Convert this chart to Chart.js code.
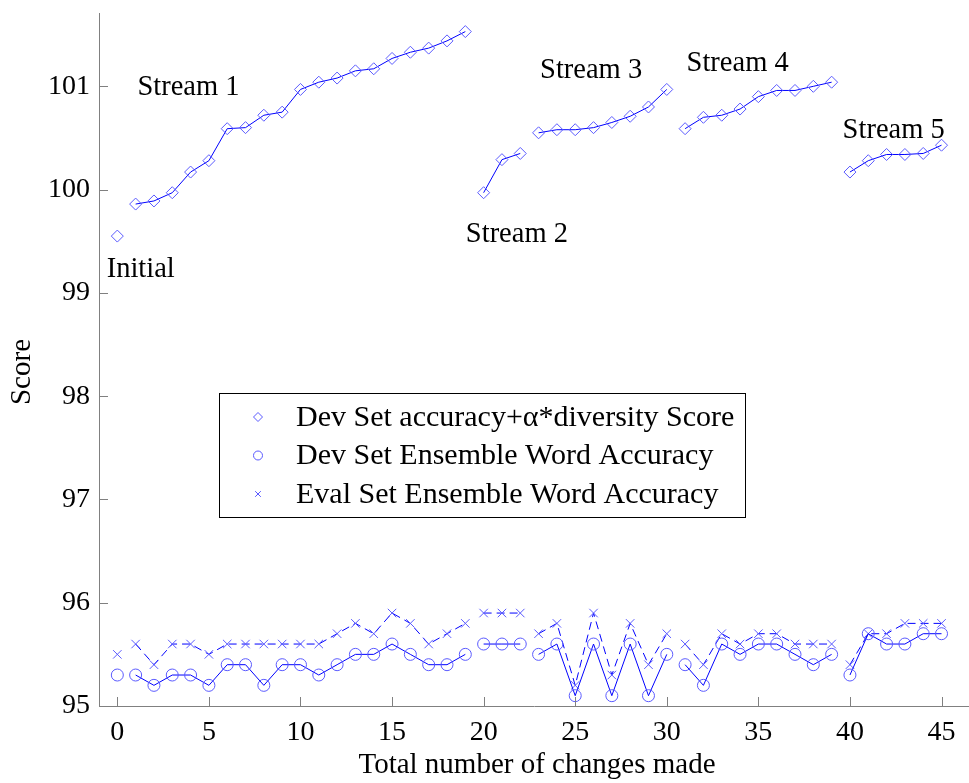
<!DOCTYPE html>
<html>
<head>
<meta charset="utf-8">
<script src="https://cdn.jsdelivr.net/npm/chart.js@4.4.1/dist/chart.umd.min.js"></script>
<style>
  html, body { margin: 0; padding: 0; background: #fff; }
  #grafico { display: block; }
</style>
</head>
<body>
<canvas id="grafico" width="969" height="783"></canvas>
<script>
const changes = [0, 1, 2, 3, 4, 5, 6, 7, 8, 9, 10, 11, 12, 13, 14, 15, 16, 17, 18, 19, 20, 21, 22,
    23, 24, 25, 26, 27, 28, 29, 30, 31, 32, 33, 34, 35, 36, 37, 38, 39, 40, 41, 42, 43, 44, 45];
const devScore = [99.55, 99.86, 99.89, 99.97, 100.17, 100.28, 100.59, 100.60, 100.72, 100.75,
    100.97, 101.04, 101.08, 101.15, 101.17, 101.27, 101.33, 101.37, 101.44, 101.53,
    99.97, 100.29, 100.35,
    100.55, 100.58, 100.58, 100.60, 100.65, 100.71, 100.80, 100.97,
    100.59, 100.70, 100.72, 100.78, 100.90, 100.96, 100.96, 101.00, 101.04,
    100.17, 100.28, 100.34, 100.34, 100.35, 100.43];
const devAcc = [95.3, 95.3, 95.2, 95.3, 95.3, 95.2, 95.4, 95.4, 95.2, 95.4, 95.4, 95.3, 95.4, 95.5,
    95.5, 95.6, 95.5, 95.4, 95.4, 95.5, 95.6, 95.6, 95.6, 95.5, 95.6, 95.1, 95.6, 95.1, 95.6, 95.1,
    95.5, 95.4, 95.2, 95.6, 95.5, 95.6, 95.6, 95.5, 95.4, 95.5, 95.3, 95.7, 95.6, 95.6, 95.7, 95.7];
const evalAcc = [95.5, 95.6, 95.4, 95.6, 95.6, 95.5, 95.6, 95.6, 95.6, 95.6, 95.6, 95.6, 95.7, 95.8,
    95.7, 95.9, 95.8, 95.6, 95.7, 95.8, 95.9, 95.9, 95.9, 95.7, 95.8, 95.2, 95.9, 95.3, 95.8, 95.4,
    95.7, 95.6, 95.4, 95.7, 95.6, 95.7, 95.7, 95.6, 95.6, 95.6, 95.4, 95.7, 95.7, 95.8, 95.8, 95.8];
// last index of each stream: no line drawn to the next point
const streamEnds = [0, 19, 22, 30, 39];
const xTicks = [0, 5, 10, 15, 20, 25, 30, 35, 40, 45];
const yTicks = [95, 96, 97, 98, 99, 100, 101];
const seriesNames = [
    'Dev Set accuracy+\u03b1*diversity Score',
    'Dev Set Ensemble Word Accuracy',
    'Eval Set Ensemble Word Accuracy'
];
const streamNames = ['Initial', 'Stream 1', 'Stream 2', 'Stream 3', 'Stream 4', 'Stream 5'];

const fonte = '"Liberation Serif", "Times New Roman", serif';
const azul = '#0000ff';
const azulMarca = '#5a5aff';
const cinza = '#808080';
const estilos = ['rectRot', 'circle', 'crossRot'];

function pontos(valores) {
    return changes.map((x, i) => ({ x: x, y: valores[i] }));
}

function serie(label, valores, estilo, tracejado) {
    return {
        label: label,
        data: pontos(valores),
        borderColor: azul,
        borderWidth: 1,
        borderDash: tracejado ? [8, 5] : [],
        backgroundColor: 'transparent',
        pointStyle: estilo,
        pointRadius: 6,
        pointBorderColor: azulMarca,
        pointBackgroundColor: 'rgba(0,0,0,0)',
        pointBorderWidth: 1,
        tension: 0,
        segment: {
            borderColor: c => streamEnds.includes(c.p0DataIndex) ? 'transparent' : azul
        }
    };
}

// posição das anotações (coordenadas dos dados, esquerda / linha de base)
const anotacoes = [
    { x: -0.58, y: 99.153 },
    { x: 1.1, y: 100.915 },
    { x: 19.03, y: 99.495 },
    { x: 23.08, y: 101.076 },
    { x: 31.08, y: 101.15 },
    { x: 39.6, y: 100.496 }
];

const extras = {
    id: 'extras',
    afterDraw(chart) {
        const c = chart.ctx;
        const xs = chart.scales.x;
        const ys = chart.scales.y;
        const area = chart.chartArea;
        c.save();
        // ticks para dentro
        c.strokeStyle = cinza;
        c.lineWidth = 1;
        c.setLineDash([]);
        c.beginPath();
        xTicks.forEach(v => {
            const px = Math.round(xs.getPixelForValue(v)) + 0.5;
            c.moveTo(px, area.bottom);
            c.lineTo(px, area.bottom - 9);
        });
        yTicks.forEach(v => {
            const py = Math.round(ys.getPixelForValue(v)) + 0.5;
            c.moveTo(area.left, py);
            c.lineTo(area.left + 9, py);
        });
        c.stroke();

        // anotações
        c.fillStyle = '#000';
        c.font = '28.5px ' + fonte;
        c.textAlign = 'left';
        c.textBaseline = 'alphabetic';
        streamNames.forEach((t, i) => {
            c.fillText(t, xs.getPixelForValue(anotacoes[i].x), ys.getPixelForValue(anotacoes[i].y));
        });

        // títulos dos eixos
        c.font = '29px ' + fonte;
        c.textAlign = 'center';
        c.textBaseline = 'middle';
        c.fillText('Total number of changes made', 537, 765);
        c.save();
        c.translate(22, 372);
        c.rotate(-Math.PI / 2);
        c.fillText('Score', 0, 0);
        c.restore();

        // legenda
        c.fillStyle = '#fff';
        c.fillRect(219.5, 393.5, 526, 124);
        c.strokeStyle = '#000';
        c.strokeRect(219.5, 393.5, 526, 124);
        const raios = [4.5, 4.5, 4];
        seriesNames.forEach((t, i) => {
            const ly = 417 + i * 38.5;
            c.strokeStyle = azulMarca;
            c.fillStyle = 'rgba(0,0,0,0)';
            Chart.helpers.drawPoint(c, {
                pointStyle: estilos[i], radius: raios[i], rotation: 0, borderWidth: 1
            }, 258, ly);
            c.fillStyle = '#000';
            c.textAlign = 'left';
            c.textBaseline = 'middle';
            c.font = '30px ' + fonte;
            c.fillText(t, 296, ly + 1);
        });
        c.restore();
    }
};

const ctx = document.getElementById('grafico').getContext('2d');

const grafico = new Chart(ctx, {
    type: 'line',
    data: {
        datasets: [
            serie(seriesNames[0], devScore, estilos[0], false),
            serie(seriesNames[1], devAcc, estilos[1], false),
            serie(seriesNames[2], evalAcc, estilos[2], true)
        ]
    },
    options: {
        responsive: false,
        animation: false,
        devicePixelRatio: 1,
        layout: { autoPadding: false, padding: { top: 13, right: 0, left: 0, bottom: 0 } },
        plugins: {
            legend: { display: false },
            tooltip: { enabled: false }
        },
        scales: {
            x: {
                type: 'linear',
                min: -1,
                max: 46.5,
                afterBuildTicks: s => { s.ticks = xTicks.map(v => ({ value: v })); },
                afterFit: s => {
                    s.height = 77;
                    s.paddingLeft = 0; s.paddingRight = 0;
                    s.paddingTop = 0; s.paddingBottom = 0;
                },
                grid: { display: false, drawTicks: false },
                border: { display: true, color: cinza, width: 1 },
                ticks: {
                    color: '#000',
                    padding: 10,
                    maxRotation: 0,
                    font: { family: fonte, size: 28 }
                }
            },
            y: {
                type: 'linear',
                min: 95,
                max: 101.71,
                afterBuildTicks: s => { s.ticks = yTicks.map(v => ({ value: v })); },
                afterFit: s => {
                    s.width = 99;
                    s.paddingLeft = 0; s.paddingRight = 0;
                    s.paddingTop = 0; s.paddingBottom = 0;
                },
                grid: { display: false, drawTicks: false },
                border: { display: true, color: cinza, width: 1 },
                ticks: {
                    color: '#000',
                    padding: 9,
                    font: { family: fonte, size: 28 }
                }
            }
        }
    },
    plugins: [extras]
});
</script>
</body>
</html>
